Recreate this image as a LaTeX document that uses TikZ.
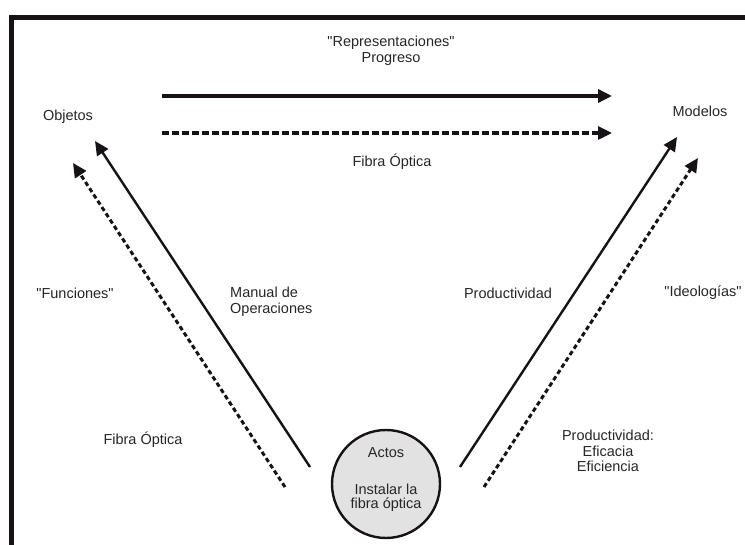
\documentclass[tikz,border=0pt]{standalone}
\usepackage{fontspec}
\setmainfont{Liberation Sans}
\usepackage{tikz}
\usetikzlibrary{arrows.meta, positioning}
\usepackage{xcolor}
\definecolor{InkBlack}{RGB}{22,18,22}
\definecolor{DiscGray}{RGB}{226,226,226}
\tikzset{%
  caption/.style={%
    font={\fontsize{14.5}{15.5}\selectfont},
    text=black!85,
    align=center,
    inner sep=0pt%
  },
  disc/.style={%
    circle,
    minimum size=108pt,
    inner sep=0pt,
    line width=2.4pt,
    draw=InkBlack,
    fill=DiscGray,
    font={\fontsize{14.5}{14}\selectfont},
    text=black!85,
    align=center%
  },
  frame/.style={%
    draw=InkBlack,
    line width=5pt,
    line join=miter%
  },
  signal/.style={%
    color=InkBlack,
    line width=2.4pt%
  },
  flatsignal/.style={%
    color=InkBlack,
    line width=3.4pt%
  },
  dashsignal/.style={%
    color=InkBlack,
    line width=3.2pt,
    dash pattern=on 7pt off 3pt%
  },
  dotsignal/.style={%
    color=InkBlack,
    line width=3pt,
    dash pattern=on 4.5pt off 3pt%
  },
  arrow/.style={-{Triangle[length=14pt, width=13pt]}}
}

\begin{document}
\begin{tikzpicture}[x=1pt, y=-1pt]
    \useasboundingbox (0,0) rectangle (745,545);
    \draw [frame] (11,560) -- (11,17.5) -- (760,17.5);

    \node [caption] (Repr) at (391,51) {\textquotedbl Representaciones\textquotedbl\\Progreso};
    \node [caption] (Objetos) at (68,117) {Objetos};
    \node [caption] (Modelos) at (700,111) {Modelos};
    \node [caption] (FibraTop) at (392,162) {Fibra Óptica};
    \node [caption] (Funciones) at (75,293) {\textquotedbl Funciones\textquotedbl};
    \node [caption, align=left, anchor=west] (Manual) at (230,302) {Manual de\\Operaciones};
    \node [caption] (Product) at (508,293) {Productividad};
    \node [caption] (Ideol) at (703,293) {\textquotedbl Ideologías\textquotedbl};
    \node [caption] (FibraLow) at (143,440) {Fibra Óptica};
    \node [caption] (Eficacia) at (608,451) {Productividad:\\Eficacia\\Eficiencia};
    \node [disc, text depth=12pt] (Actos) at (386,484) {Actos\\[23pt]Instalar la\\fibra óptica};

    \coordinate (RepStart) at (162,96);
    \coordinate (RepEnd) at (612,96);
    \coordinate (FibStart) at (162,133);
    \coordinate (FibEnd) at (612,133);
    \coordinate (ManStart) at (310,467);
    \coordinate (ManEnd) at (95,141);
    \coordinate (FunStart) at (285,487);
    \coordinate (FunEnd) at (73,163);
    \coordinate (ProStart) at (460,467);
    \coordinate (ProEnd) at (677,137);
    \coordinate (IdeStart) at (484,487);
    \coordinate (IdeEnd) at (698,158);

    \draw [arrow, flatsignal] (RepStart) -- (RepEnd);
    \draw [arrow, dashsignal] (FibStart) -- (FibEnd);
    \draw [arrow, signal] (ManStart) -- (ManEnd);
    \draw [arrow, dotsignal] (FunStart) -- (FunEnd);
    \draw [arrow, signal] (ProStart) -- (ProEnd);
    \draw [arrow, dotsignal] (IdeStart) -- (IdeEnd);
  \end{tikzpicture}
\end{document}
